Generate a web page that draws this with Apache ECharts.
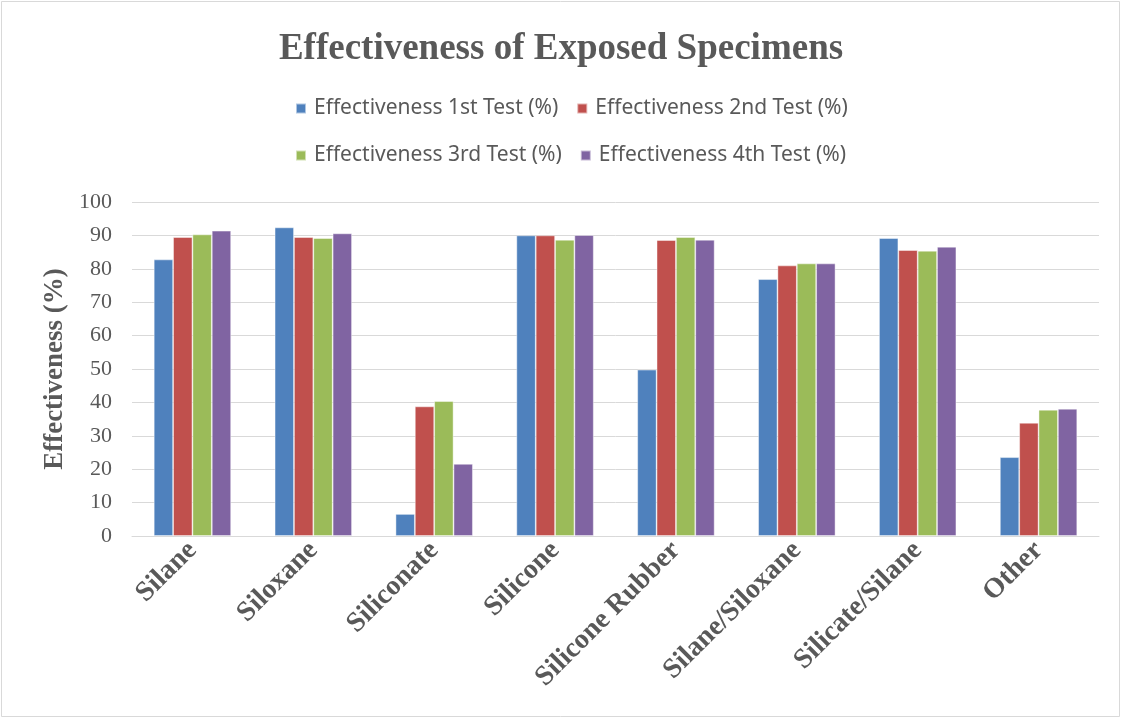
<!DOCTYPE html>
<html>
<head>
<meta charset="utf-8">
<script src="https://cdn.jsdelivr.net/npm/echarts@6/dist/echarts.min.js"></script>
<style>
  html, body { margin: 0; padding: 0; background: #ffffff; }
  #chart { width: 1122px; height: 719px; }
</style>
</head>
<body>
<div id="chart"></div>
<script>
// Coating categories and effectiveness (%) per test round
const categories = ['Silane', 'Siloxane', 'Siliconate', 'Silicone', 'Silicone Rubber', 'Silane/Siloxane', 'Silicate/Silane', 'Other'];
const test1 = [82.8, 92.4, 6.6, 90.0, 49.8, 76.9, 89.2, 23.6];
const test2 = [89.5, 89.5, 38.8, 90.0, 88.6, 81.0, 85.6, 33.9];
const test3 = [90.3, 89.2, 40.4, 88.7, 89.5, 81.6, 85.4, 37.8];
const test4 = [91.4, 90.6, 21.6, 90.1, 88.7, 81.6, 86.6, 38.1];
const seriesNames = [
  'Effectiveness 1st Test (%)',
  'Effectiveness 2nd Test (%)',
  'Effectiveness 3rd Test (%)',
  'Effectiveness 4th Test (%)'
];
const yTicks = { min: 0, max: 100, interval: 10 };

const colors = ['#4F81BD', '#C0504D', '#9BBB59', '#8064A2'];
const serif = '"Liberation Serif", "Times New Roman", serif';
const legendFont = '"Noto Sans", "Open Sans", sans-serif';
const textColor = '#595959';

const chart = echarts.init(document.getElementById('chart'), null, { renderer: 'canvas' });

function barSeries(name, data, i) {
  return {
    name: name,
    type: 'bar',
    data: data,
    barGap: '0%',
    barCategoryGap: '36%',
    itemStyle: {
      color: colors[i],
      borderColor: 'rgba(255,255,255,0.55)',
      borderWidth: 0.8
    },
    emphasis: { disabled: true }
  };
}

const legendStyle = {
  left: 295,
  padding: 0,
  orient: 'horizontal',
  itemWidth: 10,
  itemHeight: 10,
  itemGap: 18,
  icon: 'rect',
  textStyle: { fontFamily: legendFont, fontSize: 21, color: textColor, padding: [0, 0, 0, 3] }
};

chart.setOption({
  backgroundColor: '#ffffff',
  animation: false,
  color: colors,
  title: {
    text: 'Effectiveness of Exposed Specimens',
    left: 'center',
    top: 26,
    textStyle: { fontFamily: serif, fontWeight: 'bold', fontSize: 37, color: textColor }
  },
  legend: [
    Object.assign({ top: 98, data: [seriesNames[0], seriesNames[1]] }, legendStyle),
    Object.assign({ top: 145, data: [seriesNames[2], seriesNames[3]] }, legendStyle)
  ],
  grid: { left: 132, right: 23, top: 202, bottom: 183, containLabel: false },
  xAxis: {
    type: 'category',
    data: categories,
    axisLine: { show: true, lineStyle: { color: '#d9d9d9', width: 1 } },
    axisTick: { show: false },
    axisLabel: {
      rotate: 45,
      interval: 0,
      margin: 10,
      fontFamily: serif,
      fontWeight: 'bold',
      fontSize: 28,
      color: textColor
    }
  },
  yAxis: {
    type: 'value',
    min: yTicks.min,
    max: yTicks.max,
    interval: yTicks.interval,
    name: 'Effectiveness (%)',
    nameLocation: 'middle',
    nameGap: 61,
    nameRotate: 90,
    nameTextStyle: { fontFamily: serif, fontWeight: 'bold', fontSize: 27, color: textColor },
    axisLine: { show: false },
    axisTick: { show: false },
    axisLabel: { fontFamily: serif, fontSize: 22, color: textColor, margin: 20 },
    splitLine: { lineStyle: { color: '#d9d9d9', width: 1 } }
  },
  graphic: [{
    type: 'rect',
    shape: { x: 1.5, y: 1.5, width: 1118, height: 715 },
    style: { fill: 'none', stroke: '#d9d9d9', lineWidth: 1 },
    silent: true
  }],
  series: [
    barSeries(seriesNames[0], test1, 0),
    barSeries(seriesNames[1], test2, 1),
    barSeries(seriesNames[2], test3, 2),
    barSeries(seriesNames[3], test4, 3)
  ]
});
</script>
</body>
</html>
